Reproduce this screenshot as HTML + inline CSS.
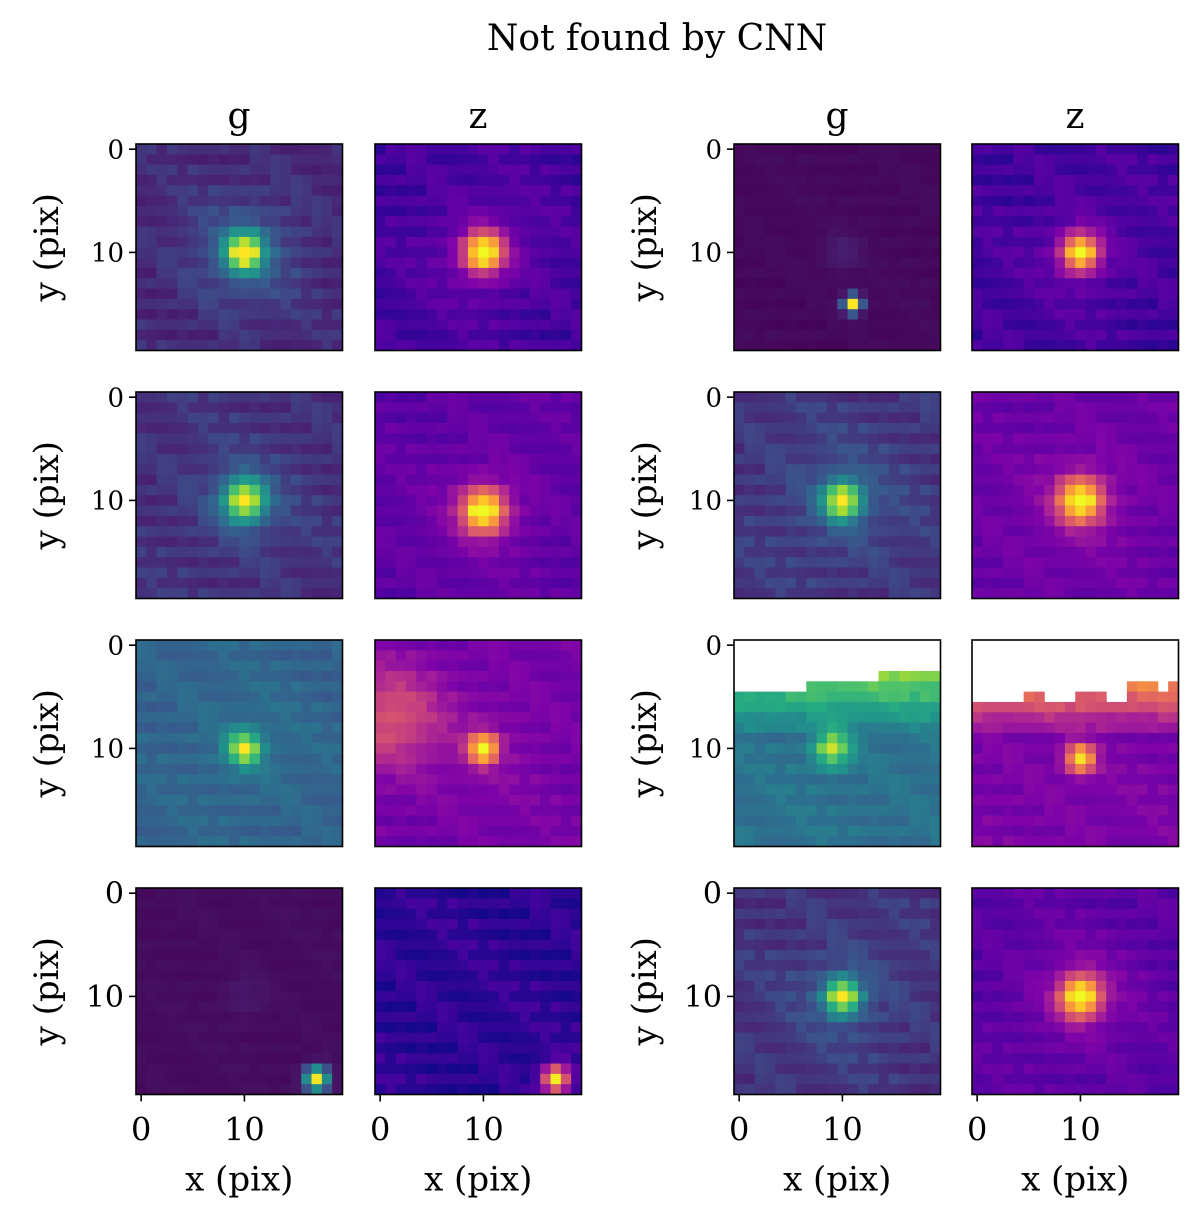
<!DOCTYPE html>
<html><head><meta charset="utf-8">
<style>
body{margin:0;background:#fff;}
svg text{font-family:"DejaVu Serif","Liberation Serif",serif;fill:#000;}
</style></head>
<body>
<svg id="fig" width="1200" height="1220" viewBox="0 0 1200 1220" xmlns="http://www.w3.org/2000/svg">
<text x="657" y="50" font-size="36" text-anchor="middle">Not found by CNN</text>
<text x="239" y="128" font-size="36" text-anchor="middle">g</text>
<text x="478" y="128" font-size="36" text-anchor="middle">z</text>
<text x="837" y="128" font-size="36" text-anchor="middle">g</text>
<text x="1075" y="128" font-size="36" text-anchor="middle">z</text>
<g id="panels"></g>
</svg>
<script>
// per-panel data (row-major, 16 panels: 4 rows x [g,z,g,z])
const cmaps = ['v','p','v','p','v','p','v','p','v','p','v','p','v','p','v','p'];
const background = [0.14,0.10,0.03,0.10,0.16,0.16,0.18,0.19,0.32,0.22,0.38,0.24,0.04,0.06,0.17,0.15];
const srcX = [10,10,11,10,10,10,10,10,10,10,9,10,10,17,10,10];
const srcY = [10,10,15,10,10,11,10,10,10,10,10,11,10,18,10,10];
const srcAmp = [0.86,0.9,0.97,0.9,0.82,0.84,0.8,0.8,0.62,0.78,0.55,0.72,0.05,0.94,0.82,0.85];
const srcWidth = [1.3,1.4,0.6,1.3,1.4,1.5,1.3,1.5,1.1,1.0,1.2,1.0,1.5,0.9,1.2,1.4];
const haloAmp = [0.14,0.1,0.0,0.06,0.08,0.1,0.08,0.1,0.05,0.06,0,0,0,0,0.08,0.12];
const src2X = [0,0,10,0,0,0,0,0,0,1,0,0,17,0,0,0];
const src2Y = [0,0,10,0,0,0,0,0,0,7,0,0,18,0,0,0];
const src2Amp = [0,0,0.08,0,0,0,0,0,0,0.32,0,0,0.96,0,0,0];
const src2Width = [1,1,1.3,1,1,1,1,1,1,3.5,1,1,0.8,1,1,1];
const topGrad = [0,0,0,0,0,0,0,0,0,0,0.35,0.45,0,0,0,0];
// first valid (non-masked) row per column, for panels 11 and 12
const maskG = [5,5,5,5,5,5,5,4,4,4,4,4,4,4,3,3,3,3,3,3];
const maskZ = [6,6,6,6,6,5,5,6,6,6,5,5,5,6,6,4,4,4,5,4];
// fixed texture pattern (pixel noise) read as small offsets
const texture = [3,-2,1,-4,2,0,-1,4,-3,1,2,-2,0,3,-1,-4,2,1,-3,0,-1,4,-2,0,3,-3,1,-1,2,-4,0,2,-2,4,-1,1,-3,3,0,-2];
const xTicks=[0,10], yTicks=[0,10];

const VIR=[[0,[68,1,84]],[.13,[72,36,117]],[.25,[59,82,139]],[.38,[44,114,142]],[.5,[33,145,140]],[.63,[39,173,129]],[.75,[94,201,98]],[.88,[170,220,50]],[1,[253,231,37]]];
const PLA=[[0,[13,8,135]],[.13,[84,2,163]],[.25,[126,3,168]],[.38,[168,34,150]],[.5,[204,71,120]],[.63,[230,108,92]],[.75,[248,149,64]],[.88,[253,196,39]],[1,[240,249,33]]];
function cmap(t,m){const s=m==='v'?VIR:PLA;t=Math.max(0,Math.min(1,t));
 for(let i=1;i<s.length;i++){if(t<=s[i][0]){const a=s[i-1],b=s[i],f=(t-a[0])/(b[0]-a[0]);
 return 'rgb('+a[1].map((c,k)=>Math.round(c+(b[1][k]-c)*f)).join(',')+')';}} return 'rgb(0,0,0)';}

const colX=[136,375,734,972], rowY=[144,392,640,888], S=206.5, N=20, cell=S/N;
const NS='http://www.w3.org/2000/svg';
const root=document.getElementById('panels');
function mk(tag,attrs){const e=document.createElementNS(NS,tag);for(const k in attrs)e.setAttribute(k,attrs[k]);return e;}
for(let p=0;p<16;p++){
 const r=Math.floor(p/4), c=p%4, x0=colX[c], y0=rowY[r];
 const g=mk('g',{});
 
 
 for(let j=0;j<N;j++)for(let i=0;i<N;i++){
  let masked=false;
  if(p===10&&j<maskG[i])masked=true;
  if(p===11&&j<maskZ[i])masked=true;
  if(masked)continue;
  const d1=((i-srcX[p])**2+(j-srcY[p])**2);
  const d2=((i-src2X[p])**2+(j-src2Y[p])**2);
  let v=background[p]+srcAmp[p]*Math.exp(-d1/(2*srcWidth[p]**2))+haloAmp[p]*Math.exp(-d1/(2*16))
   +src2Amp[p]*Math.exp(-d2/(2*src2Width[p]**2))+topGrad[p]*Math.max(0,(9-j))/5
   +texture[(i*7+j*13+p*3)%texture.length]*0.012*(p===2||p===12?0.3:1);
  const rc=mk('rect',{x:(x0+i*cell).toFixed(2),y:(y0+j*cell).toFixed(2),width:(cell+0.5).toFixed(2),height:(cell+0.5).toFixed(2),fill:cmap(v,cmaps[p])});
  
  
  g.appendChild(rc);
 }
 const fr=mk('rect',{x:x0,y:y0,width:S,height:S,fill:'none',stroke:'#000','stroke-width':1.6});
 
 
 g.appendChild(fr);
 const fs=r===3?30:26;
 if(c===0||c===2){
  yTicks.forEach(t=>{const yy=y0+(t+0.5)*cell;
   g.appendChild(mk('line',{x1:x0-7,x2:x0,y1:yy,y2:yy,stroke:'#000','stroke-width':1.6}));
   const tx=mk('text',{x:x0-12,y:yy+fs*0.35,'font-size':fs,'text-anchor':'end'});tx.textContent=t;
   
   
   g.appendChild(tx);});
  const yl=mk('text',{x:0,y:0,'font-size':34,'text-anchor':'middle',transform:'translate('+(x0-78)+','+(y0+S/2)+') rotate(-90)'});
  yl.textContent='y (pix)';
  
  
  g.appendChild(yl);
 }
 if(r===3){
  xTicks.forEach(t=>{const xx=x0+(t+0.5)*cell;
   g.appendChild(mk('line',{x1:xx,x2:xx,y1:y0+S,y2:y0+S+7,stroke:'#000','stroke-width':1.6}));
   const tx=mk('text',{x:xx,y:y0+S+46,'font-size':32,'text-anchor':'middle'});tx.textContent=t;
   
   
   g.appendChild(tx);});
  const xl=mk('text',{x:x0+S/2,y:y0+S+96,'font-size':34,'text-anchor':'middle'});
  xl.textContent='x (pix)';
  
  
  g.appendChild(xl);
 }
 root.appendChild(g);
}
</script>
</body></html>
